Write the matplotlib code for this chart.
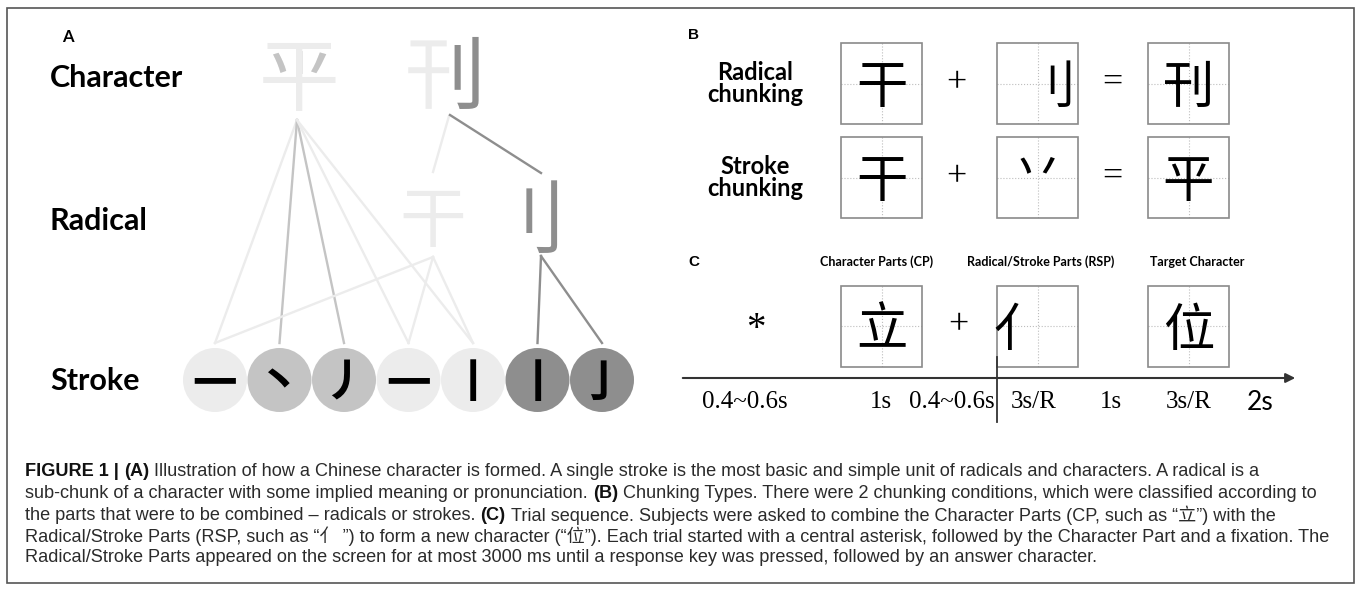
import matplotlib
matplotlib.use("Agg")
import matplotlib.pyplot as plt
import matplotlib.font_manager as fm
from matplotlib.patches import Rectangle, Circle
from matplotlib.transforms import Bbox, TransformedBbox

# ---- content -------------------------------------------------------------
level_names = ["Character", "Radical", "Stroke"]
characters = ["平", "刊"]
radicals = ["干", "刂"]
strokes = ["一", "丶", "丿", "一", "丨", "丨", "亅"]
stroke_shade = ["light", "mid", "mid", "light", "light", "dark", "dark"]
char_to_strokes = [0, 1, 2, 3, 4]          # 平 is built from these strokes
radical_to_strokes = [[0, 3, 4], [5, 6]]  # 干, 刂

chunk_rows = ["Radical\nchunking", "Stroke\nchunking"]
chunk_parts = [["干", "刂", "刊"], ["干", "丷", "平"]]
chunk_ops = ["+", "="]

trial_headers = ["Character Parts (CP)", "Radical/Stroke Parts (RSP)", "Target Character"]
trial_parts = ["立", "亻", "位"]
timing_labels = ["0.4~0.6s", "1s", "0.4~0.6s", "3s/R", "1s", "3s/R", "2s"]

caption = [
    [("FIGURE 1 |", True), ("(A)", True),
     ("Illustration of how a Chinese character is formed. A single stroke is the most basic and simple unit of radicals and characters. A radical is a", False)],
    [("sub-chunk of a character with some implied meaning or pronunciation.", False), ("(B)", True),
     ("Chunking Types. There were 2 chunking conditions, which were classified according to", False)],
    [("the parts that were to be combined – radicals or strokes.", False), ("(C)", True),
     ("Trial sequence. Subjects were asked to combine the Character Parts (CP, such as “立”) with the", False)],
    [("Radical/Stroke Parts (RSP, such as “亻 ”) to form a new character (“位”). Each trial started with a central asterisk, followed by the Character Part and a fixation. The", False)],
    [("Radical/Stroke Parts appeared on the screen for at most 3000 ms until a response key was pressed, followed by an answer character.", False)],
]

# ---- layout / style ------------------------------------------------------
W, H = 1357, 589
shades = {"light": "#ececec", "mid": "#c4c4c4", "dark": "#8e8e8e"}
CJK = "Noto Sans CJK SC"
LABEL = "Lato"
names = {f.name for f in fm.fontManager.ttflist}
CAP = "Liberation Sans" if "Liberation Sans" in names else "DejaVu Sans"

fig = plt.figure(figsize=(W / 100, H / 100), dpi=100)
ax = fig.add_axes([0, 0, 1, 1])
ax.set_xlim(0, W)
ax.set_ylim(H, 0)
ax.axis("off")


def em(pt):
    return pt * 100 / 72


def cjk(x, y, s, size, color, **kw):
    # y is the visual centre of the glyph
    return ax.text(x, y + 0.38 * em(size), s, fontsize=size, family=[CJK, "DejaVu Sans"],
                   color=color, ha="center", va="baseline", **kw)


def clip_to(artist, x0, y0, x1, y1):
    # text in Agg honours only a clip rectangle
    bb = Bbox.from_extents(x0, min(y0, y1), x1, max(y0, y1))
    artist.set_clip_box(TransformedBbox(bb, ax.transData))
    artist.set_clip_on(True)


# outer frame
ax.add_patch(Rectangle((7, 8), 1347, 575, fill=False, ec="#555555", lw=1.2))

# ---- panel A -------------------------------------------------------------
ax.text(62, 37, "A", fontsize=12, fontweight="bold", family=LABEL, va="center")
level_y = [78, 221, 381]
for name, y in zip(level_names, level_y):
    ax.text(50, y, name, fontsize=22, fontweight="bold", family=LABEL, va="center")

csize = 58
E = em(csize)
char_xy = [(299, 74), (445, 72)]
rad_xy = [(433, 217), (541, 216)]
sx0, sdx, sy, r = 215, 64.5, 380, 32
stroke_x = [sx0 + i * sdx for i in range(len(strokes))]

# links
lw = 1.7
px, py = char_xy[0]
for i in char_to_strokes:
    ax.plot([px - 2, stroke_x[i]], [py + 46, sy - r - 5], color=shades[stroke_shade[i]], lw=lw, zorder=1)
kx, ky = char_xy[1]
ax.plot([kx + 4, rad_xy[0][0]], [ky + 44, rad_xy[0][1] - 45], color=shades["light"], lw=lw, zorder=1)
ax.plot([kx + 5, rad_xy[1][0]], [ky + 43, rad_xy[1][1] - 43], color=shades["dark"], lw=lw, zorder=1)
for (rx, ry), idx in zip(rad_xy, radical_to_strokes):
    for i in idx:
        ax.plot([rx, stroke_x[i]], [ry + 40, sy - r - 5], color=shades[stroke_shade[i]], lw=lw, zorder=1)

# characters: light glyph, then darker copies clipped to the shared parts
cjk(px, py, characters[0], csize, shades["light"])
for x0, x1 in [(px - 0.5 * E, px - 0.04 * E), (px + 0.04 * E, px + 0.5 * E)]:
    t = cjk(px, py, characters[0], csize, shades["mid"])
    clip_to(t, x0, py - 0.28 * E, x1, py + 0.0 * E)
cjk(kx, ky, characters[1], csize, shades["light"])
t = cjk(kx, ky, characters[1], csize, shades["dark"])
clip_to(t, kx + 0.1 * E, ky - 0.6 * E, kx + 0.6 * E, ky + 0.6 * E)

# radicals
cjk(rad_xy[0][0], rad_xy[0][1], radicals[0], 48, shades["light"])
cjk(rad_xy[1][0] - 15, rad_xy[1][1], radicals[1], 58, shades["dark"])

# strokes
for x, s, sh in zip(stroke_x, strokes, stroke_shade):
    ax.add_patch(Circle((x, sy), r, color=shades[sh], lw=0, zorder=2))
    cjk(x, sy, s, 32, "black", fontweight="bold", zorder=3)

# ---- panel B -------------------------------------------------------------
ax.text(688, 35, "B", fontsize=11, fontweight="bold", family="Liberation Sans", va="center")
box_x = [881.5, 1037.5, 1188.5]
op_x = [956, 1112]
half = 40.5
nudge = {"刂": (12, 0), "丷": (0, -12), "亻": (-18, 0)}


def char_box(cx, cy, s):
    ax.add_patch(Rectangle((cx - half, cy - half), 2 * half, 2 * half, fill=False, ec="#8a8a8a", lw=1.2, zorder=2))
    ax.plot([cx - half, cx + half], [cy, cy], ls=":", color="#bdbdbd", lw=0.8, zorder=1)
    ax.plot([cx, cx], [cy - half, cy + half], ls=":", color="#bdbdbd", lw=0.8, zorder=1)
    dx, dy = nudge.get(s, (0, 0))
    cjk(cx + dx, cy + dy, s, 37, "black", zorder=3)


for row_y, label, parts in zip([83.5, 177.5], chunk_rows, chunk_parts):
    ax.text(755, row_y, label, fontsize=17, fontweight="bold", family=LABEL, ha="center", va="center",
            linespacing=0.9)
    for cx, s in zip(box_x, parts):
        char_box(cx, row_y, s)
    for ox, op in zip(op_x, chunk_ops):
        ax.text(ox, row_y, op, fontsize=26, family="Liberation Serif", ha="center", va="center")

# ---- panel C -------------------------------------------------------------
ax.text(688, 262, "C", fontsize=11, fontweight="bold", family="Liberation Sans", va="center")
for cx, h in zip([877, 1041, 1197], trial_headers):
    ax.text(cx, 262, h, fontsize=9, fontweight="bold", family=LABEL, ha="center", va="center")
trial_y = 326
ax.text(756, trial_y + 4, "*", fontsize=28, family="Liberation Serif", ha="center", va="center")
ax.text(958, trial_y, "+", fontsize=26, family="Liberation Serif", ha="center", va="center")
for cx, s in zip(box_x, trial_parts):
    char_box(cx, trial_y, s)

ax.annotate("", xy=(1298, 378), xytext=(680, 378),
            arrowprops=dict(arrowstyle="-|>", color="#333333", lw=1.5, mutation_scale=14))
ax.plot([996.5, 996.5], [357, 422], color="#333333", lw=1.3)
timing_x = [745, 881, 952, 1034, 1111, 1189, 1260]
for x, lab in zip(timing_x, timing_labels):
    if lab == "2s":
        ax.text(x, 402, lab, fontsize=19, family=LABEL, ha="center", va="center")
    else:
        ax.text(x, 402, lab, fontsize=18, family="Liberation Serif", ha="center", va="center")

# ---- caption -------------------------------------------------------------
renderer = fig.canvas.get_renderer()


def rich_line(x, y, segs, size):
    arts = []
    a = ax.text(0, 0, "n n", fontsize=size, family=CAP)
    b = ax.text(0, 0, "nn", fontsize=size, family=CAP)
    space = a.get_window_extent(renderer).width - b.get_window_extent(renderer).width
    a.remove()
    b.remove()
    for txt, bold in segs:
        t = ax.text(x, y, txt, fontsize=size, family=[CAP, CJK], fontweight="bold" if bold else "normal",
                    color="#111111" if bold else "#2b2b2b", va="center", ha="left")
        arts.append(t)
        x = t.get_window_extent(renderer).x1 + space
    return arts, x - space


base = 11.5
tmp, end = rich_line(25, 0, caption[1], base)
for a in tmp:
    a.remove()
cap_size = base * (1320 - 25) / (end - 25)
for y, segs in zip([472, 493.5, 515, 536.5, 558], caption):
    rich_line(25, y, segs, cap_size)

fig.savefig("out.png", dpi=100, facecolor="white")
